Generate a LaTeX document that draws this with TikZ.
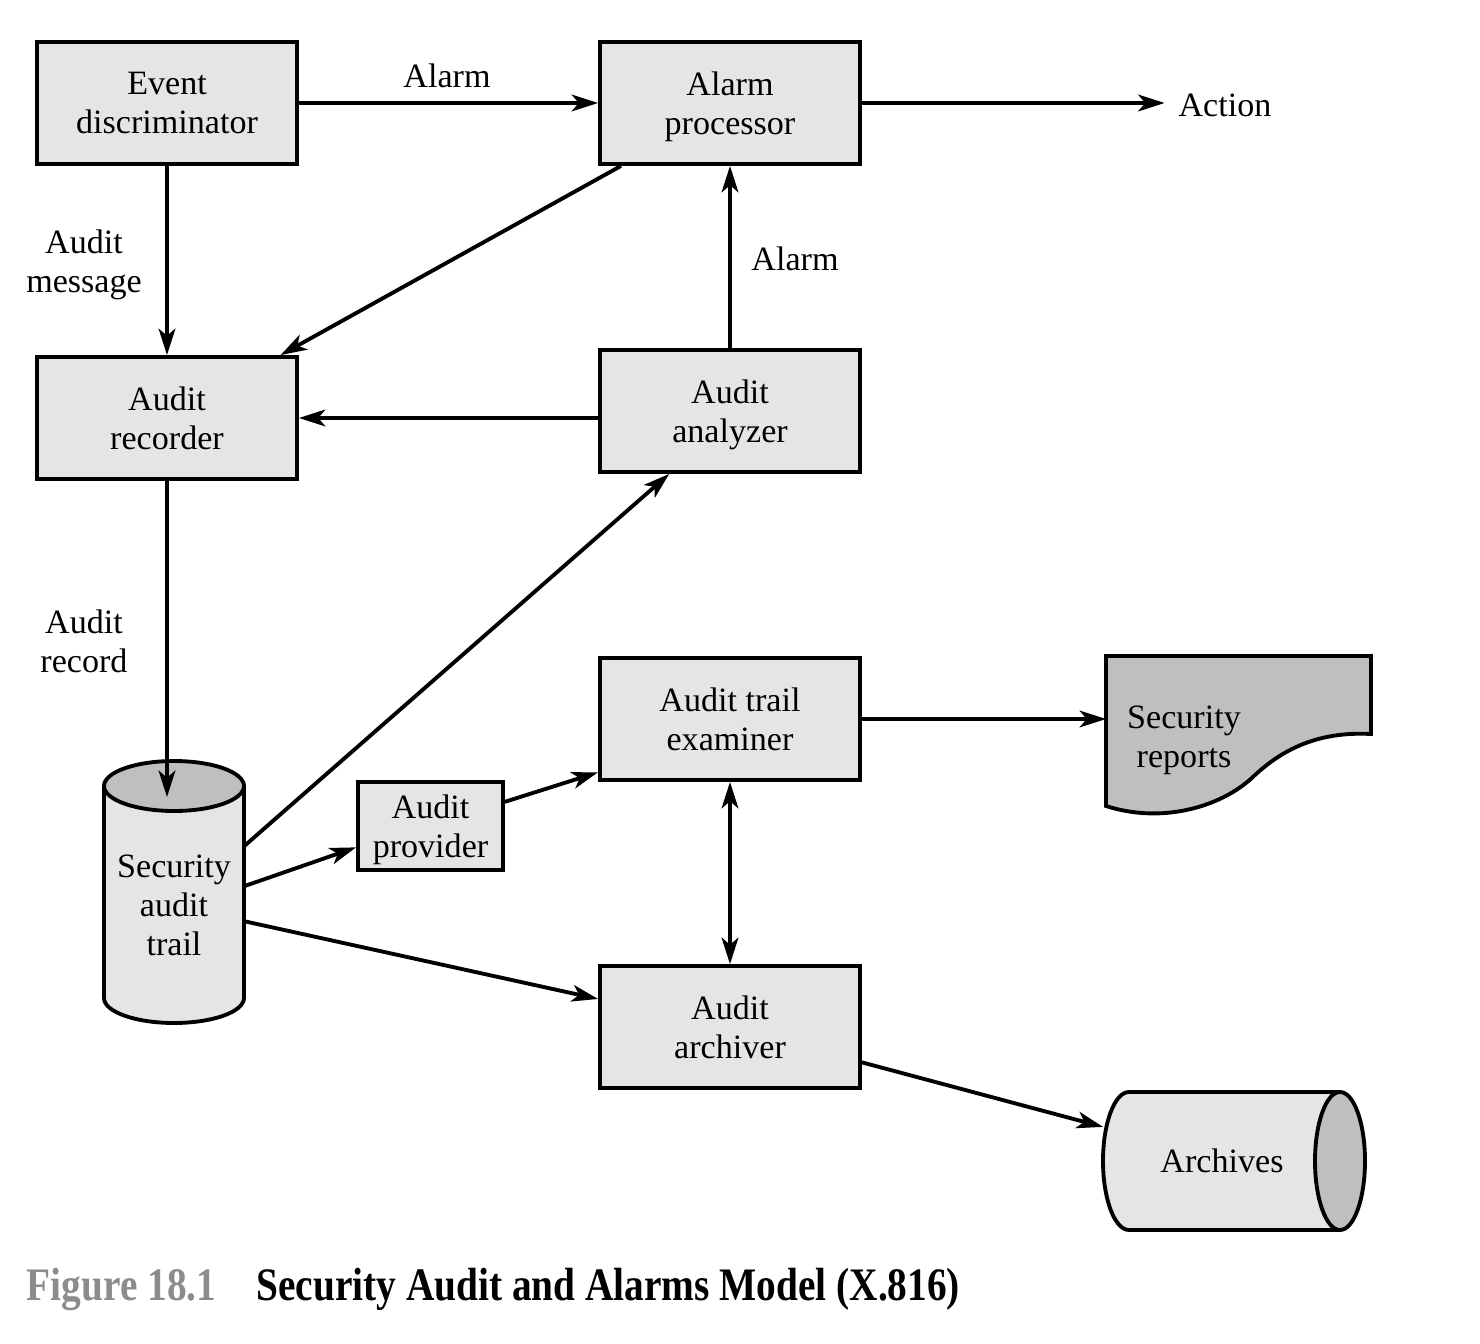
\documentclass[tikz,border=0pt]{standalone}
\usepackage{fontspec}
\setmainfont{Liberation Serif}
\newfontfamily\capfont[FakeStretch=0.845]{Liberation Serif}
\usetikzlibrary{arrows.meta}
\definecolor{boxgray}{gray}{0.9}
\definecolor{endgray}{gray}{0.75}
\definecolor{figgray}{gray}{0.55}

\begin{document}
\begin{tikzpicture}[x=0.02cm,y=-0.02cm,line width=2.2pt,
  font=\fontsize{19.4pt}{22.2pt}\selectfont,
  box/.style={draw,fill=boxgray,minimum width=5.2cm,minimum height=2.44cm,align=center,inner sep=2pt,text depth=0pt},
  lbl/.style={align=center,inner sep=2pt,outer sep=0pt,text depth=0pt},
  arr/.style={-{Stealth[length=15pt,width=9.5pt,inset=4pt]}},
  dblarr/.style={{Stealth[length=15pt,width=9.5pt,inset=4pt]}-{Stealth[length=15pt,width=9.5pt,inset=4pt]}}]
\useasboundingbox (0,0) rectangle (1480,1344);

% boxes
\node[box] (ed) at (167,103) {Event\\discriminator};
\node[box] (ap) at (730,103) {Alarm\\processor};
\node[box] (ar) at (167,418) {Audit\\recorder};
\node[box] (aa) at (730,411) {Audit\\analyzer};
\node[box] (ate) at (730,719) {Audit trail\\examiner};
\node[box,minimum width=2.9cm,minimum height=1.76cm] (apv) at (430.5,826) {Audit\\provider};
\node[box] (arc) at (730,1027) {Audit\\archiver};

% security audit trail
\draw[fill=boxgray] (104,786) -- (104,998) arc[start angle=180,end angle=360,x radius=1.4cm,y radius=0.5cm] -- (244,786);
\draw[fill=endgray] (174,786) ellipse[x radius=1.4cm,y radius=0.5cm];
\node[lbl,minimum width=2.8cm,minimum height=4.8cm] (sat) at (174,905) {Security\\audit\\trail};
\coordinate (sattop) at (167,797);

% security reports
\draw[fill=endgray] (1106,656) -- (1371,656) -- (1371,734)
  .. controls (1315,731) and (1280,752) .. (1255,775)
  .. controls (1225,805) and (1165,825) .. (1106,806) -- cycle;
\node[lbl,minimum width=3.12cm,minimum height=3cm] (sr) at (1184,737) {Security\\reports};

% archives
\draw[fill=boxgray] (1340,1092) -- (1129,1092) arc[start angle=90,end angle=270,x radius=0.52cm,y radius=1.38cm] -- (1340,1230);
\draw[fill=endgray] (1340,1161) ellipse[x radius=0.5cm,y radius=1.38cm];
\node[lbl,minimum width=4.76cm,minimum height=2.76cm] (arv) at (1222,1161) {Archives};

% labels
\node[lbl,inner xsep=8pt] (act) at (1225,105) {Action};
\node[lbl] (lalarma) at (447,76) {Alarm};
\node[lbl] (lmsg) at (84,261) {Audit\\message};
\node[lbl] (lalarmb) at (795,259) {Alarm};
\node[lbl] (lrec) at (84,641) {Audit\\record};

% connectors
\draw[arr] (ed) -- (ap);
\draw[arr] (ap) -- (ap -| act.west);
\draw[arr] (ed) -- (ar);
\draw[arr] (ap.210) -- (ar.29);
\draw[arr] (aa) -- (ap);
\draw[arr] (aa.west |- ar) -- (ar.east);
\draw[arr] (ar) -- (sattop);
\draw[arr] (sat.40) -- (aa.226);
\draw[arr] (sat.15) -- (apv.196);
\draw[arr] (apv.18) -- (ate.202);
\draw[arr] (sat.-13) -- (arc.168);
\draw[dblarr] (ate) -- (arc);
\draw[arr] (ate) -- (ate -| sr.west);
\draw[arr] (arc.-15) -- (arv.164);

% caption
\node[anchor=base west,inner sep=0pt,font=\capfont\bfseries\fontsize{26.5pt}{30pt}\selectfont] (cap) at (25,1300)
  {\textcolor{figgray}{Figure 18.1}\hspace{0.8cm}Security Audit and Alarms Model (X.816)};
\end{tikzpicture}
\end{document}
